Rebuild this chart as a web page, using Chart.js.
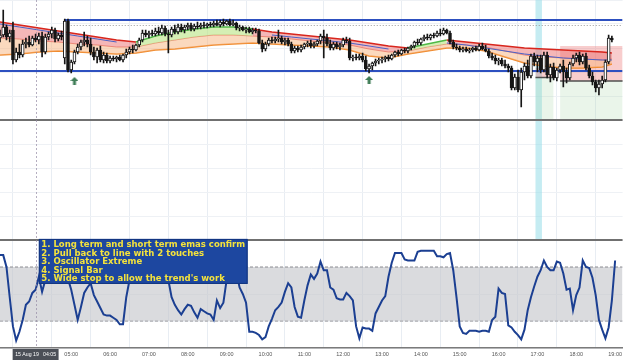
<!DOCTYPE html>
<html>
<head>
<meta charset="utf-8">
<script src="https://cdn.jsdelivr.net/npm/chart.js@4.4.1/dist/chart.umd.min.js"></script>
<style>
  html, body { margin: 0; padding: 0; background: #fff; }
</style>
</head>
<body>
<canvas id="chart" width="625" height="360"></canvas>
<script>
// 5 minute bars, first bar at 03:10 (minutes after midnight)
const firstBarMinute = 190;
const barMinutes = 5;
const viewEndMinute = 1151.5;
const timeLabels = ['04:00', '05:00', '06:00', '07:00', '08:00', '09:00', '10:00', '11:00',
  '12:00', '13:00', '14:00', '15:00', '16:00', '17:00', '18:00', '19:00'];

// price in pips above the pane floor
const candleOpen = [
  82,85,93,83,90,60,68,65,76,78, 75,82,80,84,68,83,86,90,81,85,
  62,99,50,58,68,73,78,80,76,68, 63,70,60,65,59,62,61,63,60,65,
  68,71,70,75,80,87,85,87,86,89, 87,92,86,85,91,88,93,90,93,95,
  91,94,93,95,94,96,95,97,95,98, 96,99,95,97,92,93,90,91,88,90,
  89,77,71,76,80,79,81,82,78,80, 76,69,72,70,73,76,77,74,76,79,
  84,82,76,72,76,73,75,80,79,62, 63,62,64,60,51,54,57,59,60,61,
  63,61,65,68,66,70,69,72,74,78, 77,81,83,82,85,84,87,86,90,87,
  78,73,72,70,71,69,70,72,70,74, 71,69,64,62,59,60,56,54,52,32,
  43,30,48,54,44,64,58,62,50,65, 45,53,42,50,54,48,42,56,62,65,
  58,64,52,44,38,32,36,40,58,82
];
const candleHigh = [
  90,110,95,90,98,72,76,80,82,84, 84,86,87,88,86,88,93,92,87,89,
  101,101,60,70,76,80,88,84,82,73, 72,74,68,67,64,64,64,65,66,71,
  73,75,76,82,90,90,89,90,92,93, 95,94,90,93,95,96,96,95,97,97,
  96,98,97,98,97,98,99,100,100,101, 100,101,100,98,95,94,93,93,92,92,
  91,80,78,82,83,83,90,84,82,82, 78,74,74,75,77,79,80,78,80,86,
  90,86,80,78,78,77,82,83,82,65, 66,66,67,64,56,58,61,62,63,64,
  65,66,69,70,71,72,73,75,79,81, 82,85,86,86,87,89,91,92,91,89,
  80,76,74,73,73,72,73,74,76,77, 75,71,67,65,62,62,60,56,54,46,
  50,52,57,60,66,67,65,65,68,68, 56,57,52,56,60,52,58,65,67,68,
  66,67,55,48,40,40,44,60,85,84
];
const candleLow = [
  78,83,80,78,56,58,62,63,72,73, 74,78,76,63,66,80,82,78,79,80,
  56,48,47,56,66,70,74,73,65,60, 57,58,57,57,57,59,58,59,58,62,
  66,67,69,73,78,83,82,84,84,85, 85,84,67,83,86,86,88,87,90,89,
  89,91,91,92,92,93,93,94,93,94, 95,94,94,90,89,89,87,87,86,87,
  76,68,69,74,77,77,78,76,75,74, 67,67,68,68,71,73,72,72,74,76,
  62,74,70,70,71,70,73,77,60,59, 60,60,58,49,47,50,54,56,57,58,
  59,60,63,64,65,67,67,70,72,75, 75,79,80,80,82,83,84,85,86,76,
  71,70,68,68,68,67,68,69,69,70, 68,62,60,56,55,54,52,48,30,30,
  28,13,40,42,42,54,48,47,48,42, 38,40,39,47,33,37,40,54,58,55,
  56,50,42,35,28,25,32,38,56,78
];
const candleClose = [
  85,93,83,87,60,68,65,76,78,75, 82,80,84,68,83,86,90,81,85,83,
  99,50,58,68,73,78,80,76,68,63, 70,60,65,59,62,61,63,60,65,68,
  71,70,75,80,87,85,87,86,89,87, 92,86,85,91,88,93,90,93,95,91,
  94,93,95,94,96,95,97,95,98,96, 99,95,97,92,93,90,91,88,90,89,
  77,71,76,80,79,81,82,78,80,76, 69,72,70,73,76,77,74,76,79,84,
  82,76,72,76,73,75,80,79,62,63, 62,64,60,51,54,57,59,60,61,63,
  61,65,68,66,70,69,72,74,78,77, 81,83,82,85,84,87,86,90,87,78,
  73,72,70,71,69,70,72,70,74,71, 69,64,62,59,60,56,54,52,32,43,
  30,48,54,44,64,58,62,50,65,45, 53,42,50,54,48,42,56,62,65,58,
  64,52,44,38,32,36,40,58,82,80
];

// ema ribbon, read every 6 bars
const ribbonBars = [0,6,12,18,24,30,36,42,48,54,60,66,72,78,84,90,96,102,108,114,120,126,132,138,144,150,156,162,168,174,180,186,189];
const ribbonUpper = [98,95,92,89,86,83,80,78,84,88,91,93,93,91,88,86,84,82,80,77,74,72,76,80,78,76,74,72,71,70,69,68,67];
const ribbonMid = [82,81,79,78,76,75,73,73,77,80,83,85,85,84,83,81,79,77,75,71,68,69,73,76,75,73,69,65,63,62,61,60,61];
const ribbonLower = [65,66,68,69,68,67,66,67,70,71,73,75,76,77,76,75,74,73,70,64,62,66,69,72,72,69,63,57,54,52,52,53,56];
const ribbonBlue = [96,93,90,87,84,81,78,null,null,null,null,null,null,null,85,83,81,79,77,74,71,null,null,77,75,72,69,66,64,62,61,60,60];
const ribbonTrend = ['down','down','down','down','down','down','down','up','up','up','up','up','up',
  'down','down','down','down','down','down','down','down','up','up',
  'down','down','down','down','down','down','down','down','down','down'];

// oscillator, one value per bar
const oscValues = [
  86,86,75,47,20,7,15,26,40,43, 51,54,66,52,63,72,78,80,82,80,
  74,64,54,40,26,38,51,56,60,49, 43,37,31,30,30,28,26,22,22,47,
  63,70,74,76,80,82,80,78,75,72, 68,64,63,47,40,35,31,36,40,39,
  33,28,36,34,32,31,26,44,37,42, 63,70,72,70,56,50,42,15,15,14,
  12,8,10,20,27,35,38,42,52,60, 56,38,29,28,44,58,68,64,69,80,
  72,72,56,54,46,45,45,51,48,44, 20,9,19,18,18,16,32,38,44,48,
  66,79,88,88,88,82,81,81,81,89, 90,90,90,90,90,85,85,84,87,88,
  72,47,20,14,13,16,16,16,15,16, 16,15,26,29,55,51,50,21,19,15,
  12,8,17,35,47,57,66,72,81,75, 72,72,80,79,69,54,55,35,49,56,
  81,75,74,65,49,26,17,9,19,44, 81
];
const oscUpperLevel = 75;
const oscLowerLevel = 25;

// drawn levels
const supportLevel = 49;
const resistanceLevel = 100;
const resistanceFrom = 290;
const dottedLevel = 94.5;
const dottedFrom = 290;

// signal arrows
const arrowBars = [23, 114];
const arrowLevels = [39, 40];

// position tools
const toolFrom = [1017, 1055];
const toolTo = [1045, 1170];
const toolStop = [52, 74];
const toolEntry = [42.5, 39];
const toolTarget = [1, 1];

const highlightFrom = 1017;
const highlightTo = 1027;
const crosshairMinute = 245;
const crosshairLabel = '15 Aug 19   04:05';
const noteMinute = 250;
const noteOsc = 101;
const noteLines = [
  '1. Long term and short term emas confirm',
  '2. Pull back to line with 2 touches',
  '3. Oscillator Extreme',
  '4. Signal Bar',
  "5. Wide stop to allow the trend's work"
];

const barX = i => firstBarMinute + barMinutes * i;
const toMinute = s => Number(s.slice(0, 2)) * 60 + Number(s.slice(3));
const hline = (from, to, y) => [{ x: from, y }, { x: to, y }];
const bars = candleOpen.map((_, i) => i);

function arrowImage() {
  const c = document.createElement('canvas');
  c.width = 8; c.height = 8;
  const g = c.getContext('2d');
  g.fillStyle = '#3f7d57';
  g.beginPath();
  g.moveTo(4, 0); g.lineTo(8, 4); g.lineTo(5.5, 4); g.lineTo(5.5, 8);
  g.lineTo(2.5, 8); g.lineTo(2.5, 4); g.lineTo(0, 4);
  g.closePath(); g.fill();
  return c;
}

const upFill = 'rgba(185,228,130,0.6)';
const downFill = 'rgba(236,112,112,0.5)';

const datasets = [
  {
    type: 'line', yAxisID: 'yPrice', order: 0, showLine: false,
    data: arrowBars.map((b, k) => ({ x: barX(b), y: arrowLevels[k] })),
    pointStyle: arrowImage(), pointRadius: 4
  },
  {
    type: 'bar', yAxisID: 'yPrice', order: 1, grouped: false, barThickness: 3,
    data: bars.map(i => ({ x: barX(i), y: [candleOpen[i], candleClose[i]] })),
    backgroundColor: bars.map(i => candleClose[i] >= candleOpen[i] ? '#ffffff' : '#161616'),
    borderColor: '#161616', borderWidth: 1, borderSkipped: false
  },
  {
    type: 'bar', yAxisID: 'yPrice', order: 2, grouped: false, barThickness: 1,
    data: bars.map(i => ({ x: barX(i), y: [candleLow[i], candleHigh[i]] })),
    backgroundColor: '#161616'
  },
  {
    type: 'line', yAxisID: 'yOsc', order: 1,
    data: oscValues.map((v, i) => ({ x: barX(i), y: v })),
    borderColor: '#1b3f92', borderWidth: 2, pointRadius: 0
  },
  {
    type: 'line', yAxisID: 'yPrice', order: 3,
    data: hline(firstBarMinute, viewEndMinute, supportLevel),
    borderColor: '#2d50c0', borderWidth: 2, pointRadius: 0
  },
  {
    type: 'line', yAxisID: 'yPrice', order: 3,
    data: hline(resistanceFrom, viewEndMinute, resistanceLevel),
    borderColor: '#2d50c0', borderWidth: 2, pointRadius: 0
  },
  {
    type: 'line', yAxisID: 'yPrice', order: 3,
    data: hline(dottedFrom, viewEndMinute, dottedLevel),
    borderColor: '#9a9a9a', borderWidth: 1, borderDash: [1, 2], pointRadius: 0
  },
  {
    type: 'line', yAxisID: 'yPrice', order: 5, fill: '+1',
    data: ribbonBars.map((b, k) => ({ x: barX(b), y: ribbonUpper[k] })),
    borderWidth: 1.6, pointRadius: 0,
    segment: {
      borderColor: c => ribbonTrend[c.p0DataIndex] === 'up' ? '#4fb946' : '#d8261d',
      backgroundColor: c => ribbonTrend[c.p0DataIndex] === 'up' ? upFill : downFill
    }
  },
  {
    type: 'line', yAxisID: 'yPrice', order: 5, fill: '+1',
    data: ribbonBars.map((b, k) => ({ x: barX(b), y: ribbonMid[k] })),
    borderColor: 'rgba(232,120,96,0.8)', borderWidth: 1, pointRadius: 0,
    backgroundColor: 'rgba(247,180,125,0.5)'
  },
  {
    type: 'line', yAxisID: 'yPrice', order: 5,
    data: ribbonBars.map((b, k) => ({ x: barX(b), y: ribbonLower[k] })),
    borderColor: '#f08a2c', borderWidth: 1.6, pointRadius: 0
  },
  {
    type: 'line', yAxisID: 'yPrice', order: 4, spanGaps: false,
    data: ribbonBars.map((b, k) => ({ x: barX(b), y: ribbonBlue[k] })),
    borderColor: '#4a63c8', borderWidth: 1, pointRadius: 0
  },
  {
    type: 'line', yAxisID: 'yOsc', order: 9,
    data: hline(firstBarMinute, viewEndMinute, oscUpperLevel),
    borderColor: '#8d8d92', borderWidth: 1, borderDash: [3, 2], pointRadius: 0,
    fill: { value: oscLowerLevel }, backgroundColor: 'rgba(196,197,202,0.62)'
  },
  {
    type: 'line', yAxisID: 'yOsc', order: 9,
    data: hline(firstBarMinute, viewEndMinute, oscLowerLevel),
    borderColor: '#8d8d92', borderWidth: 1, borderDash: [3, 2], pointRadius: 0
  }
];

toolFrom.forEach((from, k) => {
  datasets.push({
    type: 'line', yAxisID: 'yPrice', order: 7,
    data: hline(from, toolTo[k], toolStop[k]),
    borderWidth: 0, pointRadius: 0,
    fill: { value: toolEntry[k] }, backgroundColor: 'rgba(236,112,112,0.35)'
  });
  datasets.push({
    type: 'line', yAxisID: 'yPrice', order: 7,
    data: hline(from, toolTo[k], toolTarget[k]),
    borderWidth: 0, pointRadius: 0,
    fill: { value: toolEntry[k] }, backgroundColor: 'rgba(170,215,170,0.25)'
  });
  datasets.push({
    type: 'line', yAxisID: 'yPrice', order: 3,
    data: hline(from, toolTo[k], toolEntry[k]),
    borderColor: '#505050', borderWidth: 1.5, pointRadius: 0
  });
});

const overlay = {
  id: 'overlay',
  beforeDatasetsDraw(chart) {
    const { ctx, chartArea: a, scales: { x, yMid } } = chart;
    const x0 = x.getPixelForValue(highlightFrom);
    const x1 = x.getPixelForValue(highlightTo);
    ctx.save();
    ctx.fillStyle = 'rgba(150,221,231,0.55)';
    ctx.fillRect(x0, a.top, x1 - x0, yMid.bottom - a.top);
    ctx.restore();
  },
  afterDatasetsDraw(chart) {
    const { ctx, chartArea: a, scales: { x, yPrice, yMid } } = chart;
    ctx.save();
    ctx.strokeStyle = '#707070';
    ctx.lineWidth = 2;
    [yPrice.bottom, yMid.bottom].forEach(yy => {
      ctx.beginPath(); ctx.moveTo(a.left, yy); ctx.lineTo(a.right, yy); ctx.stroke();
    });
    const cx = Math.round(x.getPixelForValue(crosshairMinute)) + 0.5;
    ctx.strokeStyle = 'rgba(150,140,165,0.7)';
    ctx.lineWidth = 1;
    ctx.setLineDash([2, 2]);
    ctx.beginPath(); ctx.moveTo(cx, a.top); ctx.lineTo(cx, a.bottom); ctx.stroke();
    ctx.restore();
  },
  afterDraw(chart) {
    const { ctx, scales: { x, yOsc } } = chart;
    ctx.save();
    // crosshair time label
    ctx.font = '5.2px "Liberation Sans"';
    const cx = x.getPixelForValue(crosshairMinute);
    const tw = ctx.measureText(crosshairLabel).width + 5;
    ctx.fillStyle = '#4b4f57';
    ctx.fillRect(cx - tw / 2, x.top + 1, tw, chart.height - x.top - 1);
    ctx.fillStyle = '#ffffff';
    ctx.textAlign = 'center';
    ctx.textBaseline = 'middle';
    ctx.fillText(crosshairLabel, cx, x.top + 6.5);
    // note box
    ctx.font = 'bold 8.5px "DejaVu Sans"';
    ctx.textAlign = 'left';
    const lh = 8.5;
    const w = Math.max(...noteLines.map(t => ctx.measureText(t).width)) + 5;
    const h = noteLines.length * lh + 2.5;
    const nx = x.getPixelForValue(noteMinute);
    const ny = yOsc.getPixelForValue(noteOsc);
    ctx.fillStyle = '#1d47a0';
    ctx.fillRect(nx, ny, w, h);
    ctx.strokeStyle = '#12357f';
    ctx.lineWidth = 1;
    ctx.strokeRect(nx + 0.5, ny + 0.5, w - 1, h - 1);
    ctx.fillStyle = '#f5e33c';
    noteLines.forEach((t, k) => ctx.fillText(t, nx + 2.5, ny + 1.8 + lh * (k + 0.5)));
    ctx.restore();
  }
};

const hideWidth = s => { s.width = 0; };

new Chart(document.getElementById('chart'), {
  type: 'line',
  data: { datasets },
  options: {
    responsive: false,
    animation: false,
    devicePixelRatio: 1,
    layout: { padding: 0, autoPadding: false },
    plugins: { legend: { display: false }, tooltip: { enabled: false } },
    scales: {
      x: {
        type: 'linear', min: firstBarMinute, max: viewEndMinute, offset: false,
        afterBuildTicks: s => { s.ticks = timeLabels.map(t => ({ value: toMinute(t) })); },
        afterFit: s => { s.height = 12; },
        grid: { color: '#e8edf3', drawTicks: false },
        border: { color: '#7b7b7b', width: 1.5 },
        ticks: {
          autoSkip: false, maxRotation: 0, padding: 3, color: '#555',
          font: { size: 5.5, family: '"Liberation Sans"' },
          callback: v => timeLabels.find(t => toMinute(t) === v) || ''
        }
      },
      yOsc: {
        type: 'linear', position: 'left', stack: 'panes', stackWeight: 108, min: 0, max: 100,
        afterFit: hideWidth,
        ticks: { display: false, stepSize: 25 },
        grid: { color: '#eef1f5', drawTicks: false },
        border: { display: false }
      },
      yMid: {
        type: 'linear', position: 'left', stack: 'panes', stackWeight: 120, min: 0, max: 5,
        afterFit: hideWidth,
        ticks: { display: false, stepSize: 1 },
        grid: { color: '#eef1f5', drawTicks: false },
        border: { display: false }
      },
      yPrice: {
        type: 'linear', position: 'left', stack: 'panes', stackWeight: 120, min: 0, max: 120,
        afterFit: hideWidth,
        ticks: { display: false, stepSize: 24 },
        grid: { color: '#eef1f5', drawTicks: false },
        border: { display: false }
      }
    }
  },
  plugins: [overlay]
});
</script>
</body>
</html>
